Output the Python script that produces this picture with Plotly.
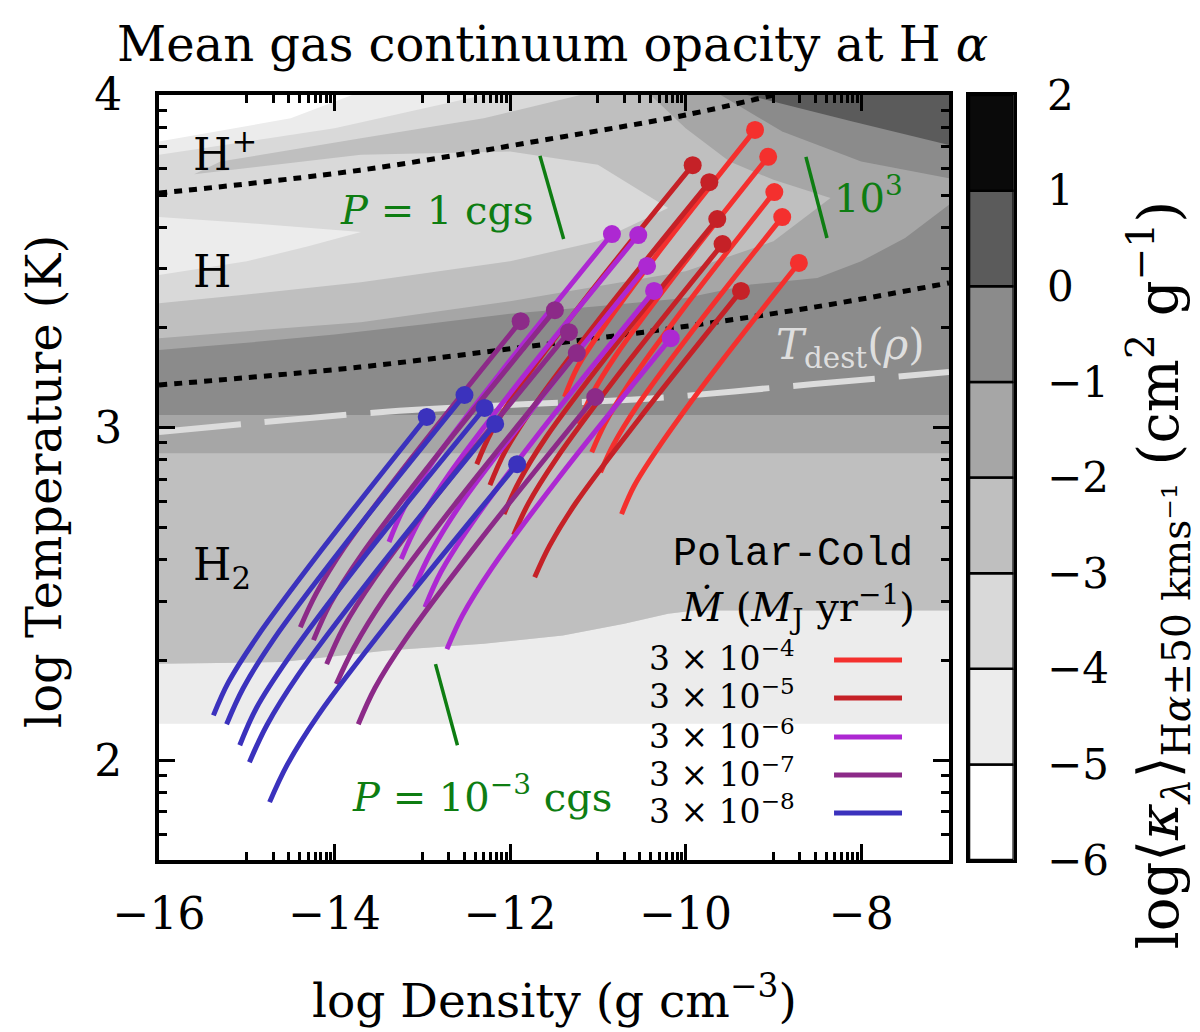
import math
import plotly.graph_objects as go

SERIF = "DejaVu Serif"
MONO = "Liberation Mono"

# ---------------- axes ----------------
X_RANGE = [-16, -7]
Y_RANGE = [1.7, 4.0]
X_MAJOR = [-16, -14, -12, -10, -8]
Y_MAJOR = [2, 3, 4]

# ---------------- colour bar levels ----------------
CB_LEVELS = [-6, -5, -4, -3, -2, -1, 0, 1]
LEVEL_COLORS = ["#ffffff", "#ececec", "#d9d9d9", "#bfbfbf",
                "#a6a6a6", "#8b8b8b", "#5b5b5b", "#0a0a0a"]
CB_TICKS = [-6, -5, -4, -3, -2, -1, 0, 1, 2]

# ---------------- opacity-map band boundaries (log rho, log T) ----------------
WHITE_TOP_Y = 2.11
G1_X = [-16, -14.6, -13.4, -12.3, -11.4, -10.7, -10.2, -9.9, -7]
G1_Y = [2.29, 2.295, 2.33, 2.35, 2.375, 2.41, 2.44, 2.45, 2.45]
BAND_A_Y = 2.923
BAND_B_Y = 3.038
B5_X = [-16, -15, -14, -13, -12, -11, -10, -9.26, -8.5, -8, -7.5, -7]
B5_Y = [3.233, 3.255, 3.28, 3.31, 3.342, 3.365, 3.39, 3.43, 3.45, 3.50, 3.57, 3.67]
B6_X = [-16, -15, -13.7, -12, -10, -9, -8.35]
B6_Y = [3.269, 3.29, 3.317, 3.38, 3.47, 3.56, 3.69]
B7_X = [-16, -15, -13.7, -12, -11, -10.2]
B7_Y = [3.374, 3.40, 3.437, 3.50, 3.56, 3.66]
B8_X = [-16, -15, -14.3, -13.7]
B8_Y = [3.459, 3.50, 3.545, 3.588]
B9_X = [-16, -15, -13.7]
B9_Y = [3.633, 3.615, 3.588]
B10_X = [-16, -15.6, -13.7, -12, -11, -10.2]
B10_Y = [3.76, 3.762, 3.82, 3.83, 3.79, 3.66]
B11_X = [-8.35, -9.0, -9.5, -10.0, -10.4]
B11_Y = [3.69, 3.745, 3.80, 3.90, 4.0]
B12_X = [-7, -8.0, -8.9, -9.6]
B12_Y = [3.75, 3.80, 3.89, 4.0]
B13_X = [-7, -8.1, -9.3]
B13_Y = [3.85, 3.92, 4.0]
U2_X = [-16, -15.6, -15.3, -13.7, -12.3, -11.2]
U2_Y = [3.762, 3.762, 3.80, 3.87, 3.93, 4.0]
U1_X = [-16, -14, -12.3]
U1_Y = [3.82, 3.90, 4.0]
U0_X = [-16, -14.5, -13.8]
U0_Y = [3.86, 3.93, 4.0]

# ---------------- overlay lines ----------------
H_ION_X = [-16, -13.71, -11.5, -10.0, -9.0]
H_ION_Y = [3.705, 3.774, 3.87, 3.94, 4.0]
H2_DISS_X = [-16, -13.71, -11.85, -10.48, -8.54, -7.0]
H2_DISS_Y = [3.128, 3.182, 3.242, 3.287, 3.362, 3.435]
TDEST_X = [-16, -13.45, -11.85, -10.48, -8.54, -7.0]
TDEST_Y = [2.987, 3.047, 3.07, 3.086, 3.131, 3.167]
P1_X = [-11.66, -11.39]
P1_Y = [3.817, 3.567]
P1E3_X = [-8.63, -8.39]
P1E3_Y = [3.814, 3.570]
PM3_X = [-12.85, -12.60]
PM3_Y = [2.289, 2.045]

# ---------------- trajectories: (log rho, log T), from shock (dot) downward ----------------
MDOT_LABELS = ["3 × 10<sup>−4</sup>", "3 × 10<sup>−5</sup>", "3 × 10<sup>−6</sup>",
               "3 × 10<sup>−7</sup>", "3 × 10<sup>−8</sup>"]
MDOT_COLORS = ["#f4302e", "#c52127", "#ad28d2", "#8c2a88", "#3b32bd"]

RHO_3E4 = [[-9.21, -10.29, -10.94, -11.23, -11.38],
           [-9.06, -10.14, -10.79, -11.07, -11.22],
           [-8.99, -10.03, -10.65, -10.92, -11.07],
           [-8.90, -9.93, -10.55, -10.82, -10.97],
           [-8.71, -9.72, -10.32, -10.59, -10.73]]
T_3E4 = [[3.895, 3.533, 3.300, 3.183, 3.092],
         [3.814, 3.452, 3.219, 3.099, 3.011],
         [3.708, 3.356, 3.130, 3.012, 2.926],
         [3.633, 3.288, 3.066, 2.950, 2.866],
         [3.495, 3.155, 2.936, 2.823, 2.740]]

RHO_3E5 = [[-9.92, -11.15, -11.89, -12.21, -12.38],
           [-9.73, -10.98, -11.73, -12.06, -12.23],
           [-9.64, -10.86, -11.59, -11.90, -12.07],
           [-9.58, -10.77, -11.48, -11.79, -11.96],
           [-9.37, -10.54, -11.25, -11.55, -11.72]]
T_3E5 = [[3.789, 3.385, 3.124, 2.989, 2.890],
         [3.738, 3.328, 3.064, 2.927, 2.827],
         [3.627, 3.228, 2.971, 2.837, 2.740],
         [3.552, 3.158, 2.904, 2.773, 2.677],
         [3.411, 3.023, 2.774, 2.645, 2.550]]

RHO_3E6 = [[-10.84, -12.11, -12.88, -13.21, -13.38],
           [-10.54, -11.89, -12.70, -13.05, -13.24],
           [-10.44, -11.76, -12.56, -12.90, -13.09],
           [-10.36, -11.67, -12.45, -12.79, -12.97],
           [-10.17, -11.45, -12.21, -12.54, -12.72]]
T_3E6 = [[3.582, 3.165, 2.897, 2.758, 2.656],
         [3.579, 3.140, 2.858, 2.712, 2.605],
         [3.486, 3.051, 2.771, 2.626, 2.520],
         [3.411, 2.983, 2.707, 2.565, 2.460],
         [3.269, 2.848, 2.577, 2.437, 2.334]]

RHO_3E7 = [[-11.88, -13.13, -13.89, -14.21, -14.39],
           [-11.49, -12.86, -13.69, -14.05, -14.24],
           [-11.33, -12.71, -13.54, -13.90, -14.09],
           [-11.24, -12.61, -13.43, -13.78, -13.98],
           [-11.03, -12.38, -13.19, -13.54, -13.73]]
T_3E7 = [[3.320, 2.906, 2.639, 2.501, 2.400],
         [3.353, 2.907, 2.619, 2.470, 2.361],
         [3.287, 2.838, 2.548, 2.398, 2.289],
         [3.224, 2.776, 2.488, 2.338, 2.229],
         [3.092, 2.649, 2.364, 2.217, 2.108]]

RHO_3E8 = [[-12.95, -14.16, -14.89, -15.21, -15.38],
           [-12.52, -13.87, -14.69, -15.04, -15.23],
           [-12.29, -13.69, -14.52, -14.89, -15.08],
           [-12.17, -13.57, -14.41, -14.77, -14.97],
           [-11.92, -13.33, -14.18, -14.54, -14.74]]
T_3E8 = [[3.032, 2.628, 2.368, 2.234, 2.135],
         [3.098, 2.653, 2.365, 2.217, 2.108],
         [3.059, 2.602, 2.309, 2.157, 2.045],
         [3.011, 2.553, 2.258, 2.106, 1.994],
         [2.890, 2.433, 2.138, 1.986, 1.874]]

GROUPS = [(RHO_3E4, T_3E4), (RHO_3E5, T_3E5), (RHO_3E6, T_3E6),
          (RHO_3E7, T_3E7), (RHO_3E8, T_3E8)]

# ---------------- figure ----------------
fig = go.Figure()


def rv(a):
    return list(a)[::-1]


def poly(xs, ys, color):
    fig.add_trace(go.Scatter(x=xs, y=ys, mode="lines", fill="toself",
                             fillcolor=color, line=dict(width=0, color=color),
                             hoverinfo="skip", showlegend=False))


# nested super-level regions of the opacity map
poly([-16, -7, -7] + rv(U0_X), [WHITE_TOP_Y, WHITE_TOP_Y, 4.0] + rv(U0_Y), LEVEL_COLORS[1])
poly(G1_X + [-7] + rv(U1_X) + B9_X + rv(B8_X),
     G1_Y + [4.0] + rv(U1_Y) + B9_Y + rv(B8_Y), LEVEL_COLORS[2])
poly(G1_X + [-7] + rv(U2_X) + B10_X + rv(B7_X),
     G1_Y + [4.0] + rv(U2_Y) + B10_Y + rv(B7_Y), LEVEL_COLORS[3])
poly([-16, -7, -7] + rv(B11_X) + rv(B6_X),
     [BAND_A_Y, BAND_A_Y, 4.0] + rv(B11_Y) + rv(B6_Y), LEVEL_COLORS[4])
poly([-16, -7] + rv(B5_X), [BAND_B_Y, BAND_B_Y] + rv(B5_Y), LEVEL_COLORS[5])
poly([-7] + rv(B12_X), [4.0] + rv(B12_Y), LEVEL_COLORS[5])
poly([-7] + rv(B13_X), [4.0] + rv(B13_Y), LEVEL_COLORS[6])

# phase boundaries
for xs, ys in [(H_ION_X, H_ION_Y), (H2_DISS_X, H2_DISS_Y)]:
    fig.add_trace(go.Scatter(x=xs, y=ys, mode="lines", hoverinfo="skip", showlegend=False,
                             line=dict(color="black", width=5, dash="8px,7px", shape="spline")))
fig.add_trace(go.Scatter(x=TDEST_X, y=TDEST_Y, mode="lines", hoverinfo="skip", showlegend=False,
                         line=dict(color="#dcdcdc", width=6, dash="82px,24px", shape="spline")))
GREEN = "#0e7d12"
for xs, ys in [(P1_X, P1_Y), (P1E3_X, P1E3_Y), (PM3_X, PM3_Y)]:
    fig.add_trace(go.Scatter(x=xs, y=ys, mode="lines", hoverinfo="skip", showlegend=False,
                             line=dict(color=GREEN, width=3.5)))

# trajectories
for (rho, temp), col in zip(GROUPS, MDOT_COLORS):
    for xs, ys in zip(rho, temp):
        fig.add_trace(go.Scatter(x=xs, y=ys, mode="lines", hoverinfo="skip", showlegend=False,
                                 line=dict(color=col, width=5, shape="spline", smoothing=1.0)))
for (rho, temp), col in zip(GROUPS, MDOT_COLORS):
    fig.add_trace(go.Scatter(x=[c[0] for c in rho], y=[c[0] for c in temp], mode="markers",
                             hoverinfo="skip", showlegend=False,
                             marker=dict(size=18, color=col, line=dict(width=0))))

# colour bar as stacked blocks
fig.add_trace(go.Bar(x=[0.5] * len(CB_LEVELS), y=[1] * len(CB_LEVELS), base=CB_LEVELS,
                     width=1, xaxis="x2", yaxis="y2", showlegend=False, hoverinfo="skip",
                     marker=dict(color=LEVEL_COLORS, line=dict(color="black", width=2.5))))

# minor ticks (log-style)
LOGK = [math.log10(k) for k in range(1, 10)]
x_minor = [d + l for d in [-15, -13, -11, -9] for l in LOGK]
y_minor = [d + math.log10(k) for d in [1, 2, 3] for k in range(2, 10)
           if Y_RANGE[0] < d + math.log10(k) < Y_RANGE[1]]

tickfont = dict(family=SERIF, size=44, color="black")
fig.update_layout(
    width=1200, height=1032,
    margin=dict(l=151, r=193, t=87, b=180),
    paper_bgcolor="white", plot_bgcolor="white",
    showlegend=False,
    xaxis=dict(domain=[0, 0.9229], range=X_RANGE, tickvals=X_MAJOR, ticks="inside",
               ticklen=16, tickwidth=3, tickcolor="black", showline=True, linewidth=4,
               linecolor="black", mirror="ticks", showgrid=False, zeroline=False,
               tickfont=tickfont, ticklabelstandoff=12,
               minor=dict(tickvals=x_minor, ticks="inside", ticklen=8, tickwidth=2.5,
                          tickcolor="black", showgrid=False)),
    yaxis=dict(domain=[0, 1], range=Y_RANGE, tickvals=Y_MAJOR, ticks="inside",
               ticklen=16, tickwidth=3, tickcolor="black", showline=True, linewidth=4,
               linecolor="black", mirror="ticks", showgrid=False, zeroline=False,
               tickfont=tickfont, ticklabelstandoff=24,
               minor=dict(tickvals=y_minor, ticks="inside", ticklen=8, tickwidth=2.5,
                          tickcolor="black", showgrid=False)),
    xaxis2=dict(domain=[0.9463, 0.9985], range=[0, 1], anchor="y2", showticklabels=False,
                ticks="", showline=True, mirror=True, linewidth=3, linecolor="black",
                showgrid=False, zeroline=False, fixedrange=True),
    yaxis2=dict(domain=[0, 1], range=[-6, 2], anchor="x2", side="right", tickvals=CB_TICKS,
                ticks="", showline=True, mirror=True, linewidth=3, linecolor="black",
                showgrid=False, zeroline=False, tickfont=dict(family=SERIF, size=42, color="black"),
                ticklabelstandoff=22, fixedrange=True),
)


def ann(text, x, y, size=42, color="black", xanchor="center", yanchor="middle",
        xref="paper", yref="paper", angle=0, family=SERIF):
    fig.add_annotation(text=text, x=x, y=y, xref=xref, yref=yref, showarrow=False,
                       xanchor=xanchor, yanchor=yanchor, textangle=angle,
                       font=dict(family=family, size=size, color=color))


# titles
ann("Mean gas continuum opacity at H <i>α</i>", 0.460, 1.067, size=48)
ann("log Density (g cm<sup>−3</sup>)", 0.4615, -0.179, size=47)
ann("log Temperature (K)", -0.1343, 0.494, size=48, angle=-90)
ann("log⟨<i>κ</i><sub><i>λ</i></sub>⟩<sub>H<i>α</i>±50 kms⁻¹</sub> (cm<sup>2</sup> g<sup>−1</sup>)",
    1.168, 0.372, size=56, angle=-90)

# region labels
ann("H<sup>+</sup>", -15.63, 3.83, size=44, xanchor="left", xref="x", yref="y")
ann("H", -15.63, 3.47, size=44, xanchor="left", xref="x", yref="y")
ann("H<sub>2</sub>", -15.63, 2.58, size=44, xanchor="left", xref="x", yref="y")
ann("<i>P</i> = 1 cgs", -11.70, 3.654, size=40, color=GREEN, xanchor="right", xref="x", yref="y")
ann("10<sup>3</sup>", -8.33, 3.70, size=40, color=GREEN, xanchor="left", xref="x", yref="y")
ann("<i>P</i> = 10<sup>−3</sup> cgs", -12.32, 1.898, size=40, color=GREEN, xref="x", yref="y")
ann("<i>T</i><sub>dest</sub>(<i>ρ</i>)", -8.12, 3.242, size=42, color="#dedede", xref="x", yref="y")

# legend (drawn manually)
ann("Polar-Cold", 0.8832, 0.3987, size=40, xanchor="right", family=MONO)
ann("<i>Ṁ</i> (<i>M</i><sub>J</sub> yr<sup>−1</sup>)", 0.8855, 0.3307, size=40, xanchor="right")
LEG_Y = [0.2654, 0.2157, 0.1647, 0.1150, 0.0654]
for lab, col, yy in zip(MDOT_LABELS, MDOT_COLORS, LEG_Y):
    ann(lab, 0.7453, yy, size=33, xanchor="right")
    fig.add_shape(type="line", xref="paper", yref="paper", x0=0.7886, x1=0.868,
                  y0=yy - 0.004, y1=yy - 0.004, line=dict(color=col, width=5))

fig.write_html("out.html")
